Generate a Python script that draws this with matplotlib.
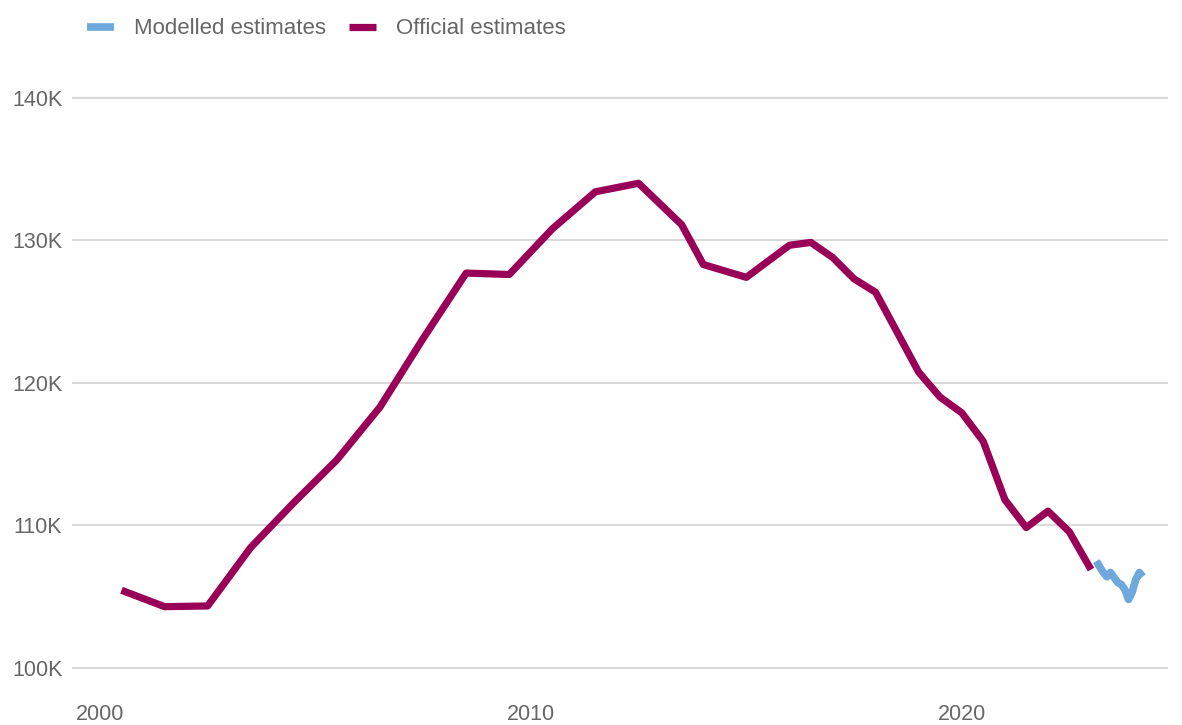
import pandas as pd
import matplotlib
matplotlib.use('Agg')
import matplotlib.pyplot as plt
import matplotlib.dates as mdates

plt.rcParams['font.family'] = ['Liberation Sans', 'DejaVu Sans']

official_dates = ['2000-07-01', '2001-07-01', '2002-07-01', '2003-07-01', '2004-07-01',
                  '2005-07-01', '2006-07-01', '2007-07-01', '2008-07-01', '2009-07-01',
                  '2010-07-01', '2011-07-01', '2012-07-01', '2013-07-01', '2014-01-01',
                  '2015-01-01', '2016-01-01', '2016-07-01', '2017-01-01', '2017-07-01',
                  '2018-01-01', '2019-01-01', '2019-07-01', '2020-01-01', '2020-07-01',
                  '2021-01-01', '2021-07-01', '2022-01-01', '2022-07-01', '2023-01-01']
official_values = [105.45, 104.3, 104.35, 108.45, 111.6, 114.6, 118.3, 123.1, 127.7, 127.6,
                   130.8, 133.4, 134.0, 131.1, 128.3, 127.4, 129.65, 129.85, 128.8, 127.3,
                   126.35, 120.75, 119.0, 117.9, 115.9, 111.8, 109.85, 111.0, 109.55, 106.9]

modelled_dates = ['2023-02-15', '2023-03-15', '2023-04-15', '2023-05-15', '2023-06-15',
                  '2023-07-15', '2023-08-15', '2023-09-15', '2023-10-15', '2023-11-15',
                  '2023-12-15', '2024-01-15', '2024-02-15', '2024-03-15']
modelled_values = [107.5, 107.1, 106.7, 106.4, 106.7, 106.35, 106.0, 105.85, 105.5, 104.8,
                   105.3, 106.2, 106.7, 106.4]

y_ticks = [100, 110, 120, 130, 140]
y_labels = ['100K', '110K', '120K', '130K', '140K']

grey = '#666666'

fig = plt.figure(figsize=(11.82, 7.25), dpi=100)
ax = fig.add_axes([0.0609, 0.059, 0.927, 0.8652])

ax.plot(pd.to_datetime(modelled_dates), modelled_values, color='#6fa8dc', lw=5.5,
        solid_joinstyle='round', solid_capstyle='butt', label='Modelled estimates')
ax.plot(pd.to_datetime(official_dates), official_values, color='#990057', lw=5.2,
        solid_capstyle='butt', label='Official estimates')

ax.set_ylim(99, 143)
ax.set_xlim(pd.Timestamp('1999-05-08'), pd.Timestamp('2024-10-12'))
ax.set_yticks(y_ticks)
ax.set_yticklabels(y_labels)
ax.xaxis.set_major_locator(mdates.YearLocator(10))
ax.xaxis.set_major_formatter(mdates.DateFormatter('%Y'))

ax.grid(axis='y', color='#d9d9d9', lw=1.5)
ax.set_axisbelow(True)
for s in ax.spines.values():
    s.set_visible(False)
ax.tick_params(axis='both', length=0, labelsize=15.5, labelcolor=grey)
ax.tick_params(axis='y', pad=7)
ax.tick_params(axis='x', pad=16)

fig.legend(loc='center left', bbox_to_anchor=(87 / 1182, 1 - 29 / 725), ncol=2,
           frameon=False, fontsize=16, labelcolor=grey, borderpad=0, borderaxespad=0,
           handlelength=1.2, handletextpad=0.9, columnspacing=1.05)

fig.savefig('out.png', dpi=100)
